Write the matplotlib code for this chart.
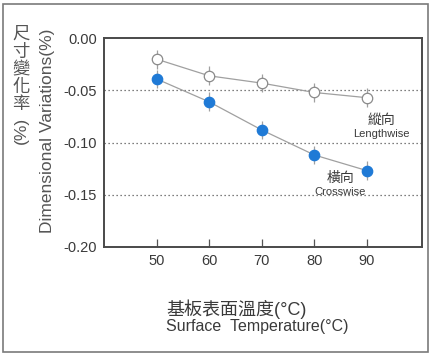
import matplotlib.pyplot as plt
from matplotlib.patches import Rectangle

# data
temps = [50, 60, 70, 80, 90]
lengthwise = [-0.020, -0.036, -0.043, -0.052, -0.057]
crosswise = [-0.039, -0.061, -0.088, -0.112, -0.127]
err_len = [0.009, 0.009, 0.009, 0.009, 0.009]
err_cross = [0.009, 0.009, 0.009, 0.009, 0.009]
yticks = [0.00, -0.05, -0.10, -0.15, -0.20]
ytick_labels = ['0.00', '-0.05', '-0.10', '-0.15', '-0.20']

plt.rcParams['font.family'] = ['Liberation Sans', 'Noto Sans CJK TC', 'DejaVu Sans']
txt = '#3a3a3a'
line_c = '#a0a0a0'
blue = '#1f7ad6'

fig = plt.figure(figsize=(4.33, 3.56), dpi=100)
ax = fig.add_axes([0.2402, 0.307, 0.7337, 0.5854])

# dotted gridlines
for y in [-0.05, -0.10, -0.15]:
    ax.axhline(y, color='#555555', lw=0.9, ls=(0, (1, 2.2)), zorder=1)

ax.errorbar(temps, lengthwise, yerr=err_len, fmt='-o', color=line_c, lw=0.9,
            elinewidth=0.9, capsize=0, ms=7.5, mfc='white', mec='#8a8a8a',
            mew=0.9, zorder=3)
ax.errorbar(temps, crosswise, yerr=err_cross, fmt='-o', color=line_c, lw=0.9,
            elinewidth=0.9, capsize=0, ms=7.5, mfc=blue, mec=blue,
            mew=0.9, zorder=3)

ax.set_xlim(40, 100.4)
ax.set_ylim(-0.2, 0.0)
ax.set_xticks(temps)
ax.set_xticklabels([str(t) for t in temps])
ax.set_yticks(yticks)
ax.set_yticklabels(ytick_labels)
ax.tick_params(axis='x', direction='in', length=6, width=0.9, color='#555555',
               labelsize=10.5, labelcolor=txt, pad=5)
ax.tick_params(axis='y', length=0, labelsize=10.5, labelcolor=txt, pad=5)
for s in ax.spines.values():
    s.set_color('#4a4a4a')
    s.set_linewidth(1.4)

# labels on the curves
ax.text(92.7, -0.0784, '縱向', ha='center', va='center', fontsize=10, color=txt)
ax.text(92.7, -0.0919, 'Lengthwise', ha='center', va='center', fontsize=8, color=txt)
ax.text(84.9, -0.134, '橫向', ha='center', va='center', fontsize=10, color=txt)
ax.text(84.9, -0.1475, 'Crosswise', ha='center', va='center', fontsize=8, color=txt)

# y axis title: stacked Chinese column + rotated English
ychars = ['尺', '寸', '變', '化', '率']
for i, ch in enumerate(ychars):
    fig.text(21 / 433, 1 - (34 + i * 17.5) / 356, ch, ha='center', va='center',
             fontsize=12.5, color='#555555')
fig.text(21 / 433, 1 - 130 / 356, '(%)', rotation=90, ha='center', va='center',
         fontsize=12.5, color='#555555')
fig.text(48 / 433, 1 - 131 / 356, 'Dimensional Variations(%)', rotation=90,
         ha='center', va='center', fontsize=12.5, color='#555555')

# x axis title
fig.text(166 / 433, 1 - 309 / 356, '基板表面溫度(°C)', ha='left', va='center',
         fontsize=13, color=txt)
fig.text(166 / 433, 1 - 326 / 356, 'Surface  Temperature(°C)', ha='left',
         va='center', fontsize=11.5, color=txt)

# outer frame
fig.patches.append(Rectangle((3 / 433, 4 / 356), 425 / 433, 348 / 356,
                             transform=fig.transFigure, fill=False,
                             edgecolor='#7a7a7a', lw=1.2))

fig.savefig('out.png', dpi=100)
